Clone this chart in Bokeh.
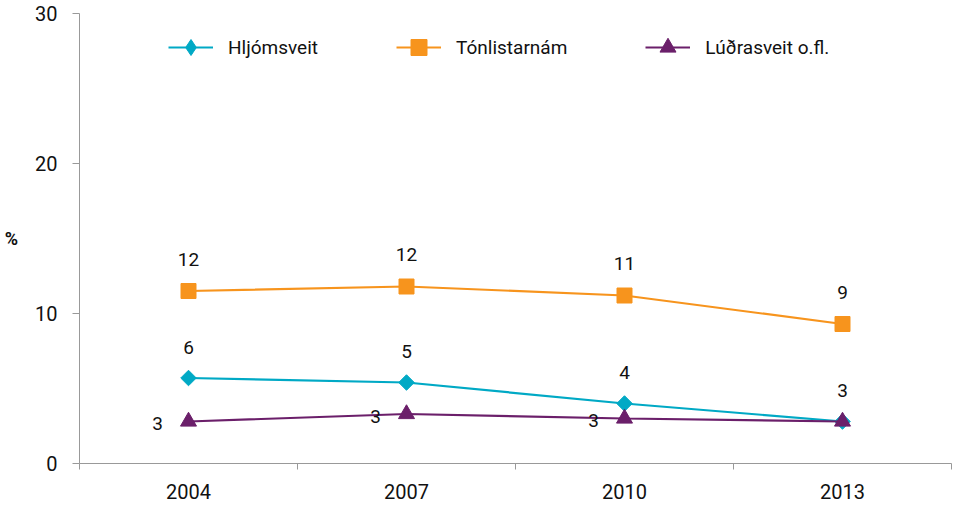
import math
from bokeh.plotting import figure
from bokeh.models import FixedTicker, Legend, LegendItem
from bokeh.core.properties import value
from bokeh.embed import file_html
from bokeh.resources import INLINE

years = ["2004", "2007", "2010", "2013"]
hljomsveit = [5.7, 5.4, 4.0, 2.8]
tonlistarnam = [11.5, 11.8, 11.2, 9.3]
ludrasveit = [2.8, 3.3, 3.0, 2.8]
series_names = ["Hljómsveit", "Tónlistarnám", "Lúðrasveit o.fl."]
y_ticks = [0, 10, 20, 30]

FONT = "Roboto"
C_TEAL = "#00A9C5"
C_ORANGE = "#F7941D"
C_PURPLE = "#6B1F6A"

xs = [i + 0.5 for i in range(len(years))]

p = figure(width=953, height=504, output_backend="svg", toolbar_location=None,
           x_range=(0, len(years)), y_range=(0, 30),
           min_border_left=79, min_border_right=2, min_border_top=13, min_border_bottom=41)
p.outline_line_color = None
p.xgrid.visible = False
p.ygrid.visible = False

# axes
p.xaxis.ticker = FixedTicker(ticks=xs, minor_ticks=list(range(len(years) + 1)))
p.xaxis.major_label_overrides = {x: y for x, y in zip(xs, years)}
p.xaxis.major_tick_out = 0
p.xaxis.major_tick_in = 0
p.xaxis.minor_tick_out = 6
p.xaxis.minor_tick_in = 0
p.xaxis.minor_tick_line_color = "#999999"
p.xaxis.axis_line_color = "#999999"
p.xaxis.major_label_standoff = 14
p.yaxis.ticker = FixedTicker(ticks=y_ticks, minor_ticks=[])
p.yaxis.major_tick_out = 7
p.yaxis.major_tick_in = 0
p.yaxis.major_tick_line_color = "#999999"
p.yaxis.axis_line_color = "#999999"
p.yaxis.major_label_standoff = 15
for ax in (p.xaxis, p.yaxis):
    ax.major_label_text_font = FONT
    ax.major_label_text_font_size = "20px"
    ax.major_label_text_color = "#111111"
p.yaxis.axis_label = "%"
p.yaxis.axis_label_orientation = "horizontal"
p.yaxis.axis_label_text_font = FONT
p.yaxis.axis_label_text_font_size = "18px"
p.yaxis.axis_label_text_font_style = "bold"
p.yaxis.axis_label_text_color = "#111111"
p.yaxis.axis_label_standoff = 14

# series
r1l = p.line(xs, hljomsveit, line_color=C_TEAL, line_width=2.2)
r1m = p.scatter(xs, hljomsveit, marker="square", angle=math.pi / 4, size=11, color=C_TEAL)
# diamond shape used only for the legend sample
r1k = p.scatter(xs, hljomsveit, marker="diamond", size=16, color=C_TEAL, visible=False)
r2l = p.line(xs, tonlistarnam, line_color=C_ORANGE, line_width=2.2)
r2m = p.scatter(xs, tonlistarnam, marker="square", size=15, color=C_ORANGE)
r3l = p.line(xs, ludrasveit, line_color=C_PURPLE, line_width=2.2)
r3m = p.scatter(xs, ludrasveit, marker="triangle", size=16, color=C_PURPLE)

# data labels
lab_kw = dict(text_font=value(FONT), text_font_size="19px", text_color="#111111",
              text_align="center", text_baseline="middle")
p.text(xs, tonlistarnam, text=[str(round(v)) for v in tonlistarnam], y_offset=-32, **lab_kw)
p.text(xs, hljomsveit, text=[str(round(v)) for v in hljomsveit], y_offset=-31, **lab_kw)
p.text(xs[:3], ludrasveit[:3], text=[str(round(v)) for v in ludrasveit[:3]],
       x_offset=-31, y_offset=2, **lab_kw)

legend = Legend(items=[
    LegendItem(label=series_names[0], renderers=[r1l, r1k]),
    LegendItem(label=series_names[1], renderers=[r2l, r2m]),
    LegendItem(label=series_names[2], renderers=[r3l, r3m]),
], orientation="horizontal", location=(89, 396), spacing=78, padding=0, margin=0,
    glyph_width=45, glyph_height=40, label_height=40, label_standoff=15,
    label_text_font=FONT, label_text_font_size="19px", label_text_color="#111111",
    border_line_alpha=0, background_fill_alpha=0, inactive_fill_alpha=0)
p.add_layout(legend, "center")

open("out.html", "w").write(file_html(p, INLINE))
